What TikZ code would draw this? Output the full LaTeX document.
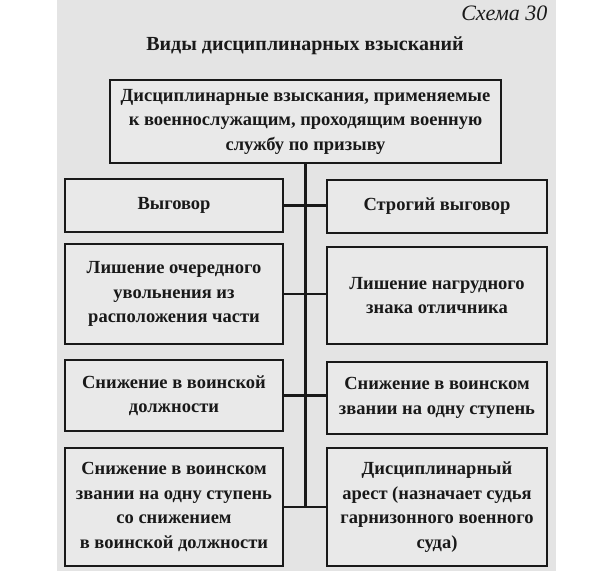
\documentclass[tikz,border=0pt]{standalone}
\usepackage{fontspec}
\setmainfont{Liberation Serif}
\usepackage{tikz}
\usetikzlibrary{positioning}
\definecolor{pagegray}{RGB}{228,228,228}
\definecolor{boxgray}{RGB}{233,233,233}
\definecolor{ink}{RGB}{25,25,25}
\tikzstyle{box} = [draw=ink, line width=1.5pt, fill=boxgray, align=center, inner sep=0pt, text=ink, font=\fontsize{18.5}{24.5}\selectfont\bfseries]
\tikzstyle{link} = [draw=ink, line width=2.4pt]

\begin{document}
\begin{tikzpicture}[x=1pt,y=-1pt]
                        \useasboundingbox (0,0) rectangle (610,571);
                        \fill [white] (0,0) rectangle (610,571);
                        \fill [pagegray] (57,0) rectangle (556,571);
                        \node [anchor=east, text=ink, font=\fontsize{22}{24}\selectfont\itshape] (scheme) at (551,13) {Схема 30};
                        \node [text=ink, font=\fontsize{20}{22}\selectfont\bfseries] (title) at (305,46) {Виды дисциплинарных взысканий};
                        \node [box, minimum width=391pt, minimum height=83pt] (top) at (305.5,121.5) {Дисциплинарные взыскания, применяемые\\к военнослужащим, проходящим военную\\службу по призыву};
                        % left column
                        \node [box, minimum width=218pt, minimum height=53pt] (l1) at (174,205.5) {Выговор};
                        \node [box, minimum width=218pt, minimum height=100pt] (l2) at (174,294) {Лишение очередного\\увольнения из\\расположения части};
                        \node [box, minimum width=218pt, minimum height=71pt] (l3) at (174,395.5) {Снижение в воинской\\должности};
                        \node [box, minimum width=218pt, minimum height=118pt] (l4) at (174,507) {Снижение в воинском\\звании на одну ступень\\со снижением\\в воинской должности};
                        % right column
                        \node [box, minimum width=220pt, minimum height=53pt] (r1) at (437,206.5) {Строгий выговор};
                        \node [box, minimum width=220pt, minimum height=97pt] (r2) at (437,295.5) {Лишение нагрудного\\знака отличника};
                        \node [box, minimum width=220pt, minimum height=72pt] (r3) at (437,398) {Снижение в воинском\\звании на одну ступень};
                        \node [box, minimum width=220pt, minimum height=118pt] (r4) at (437,507) {Дисциплинарный\\арест (назначает судья\\гарнизонного военного\\суда)};
                        % spine and branches
                        \draw [link] (top.south) -- (top.south |- l4.east);
                        \draw [link] (l1.east) -- (l1.east -| r1.west);
                        \draw [link] (l2.east) -- (l2.east -| r2.west);
                        \draw [link] (l3.east) -- (l3.east -| r3.west);
                        \draw [link] (l4.east) -- (l4.east -| r4.west);
                    \end{tikzpicture}
\end{document}
